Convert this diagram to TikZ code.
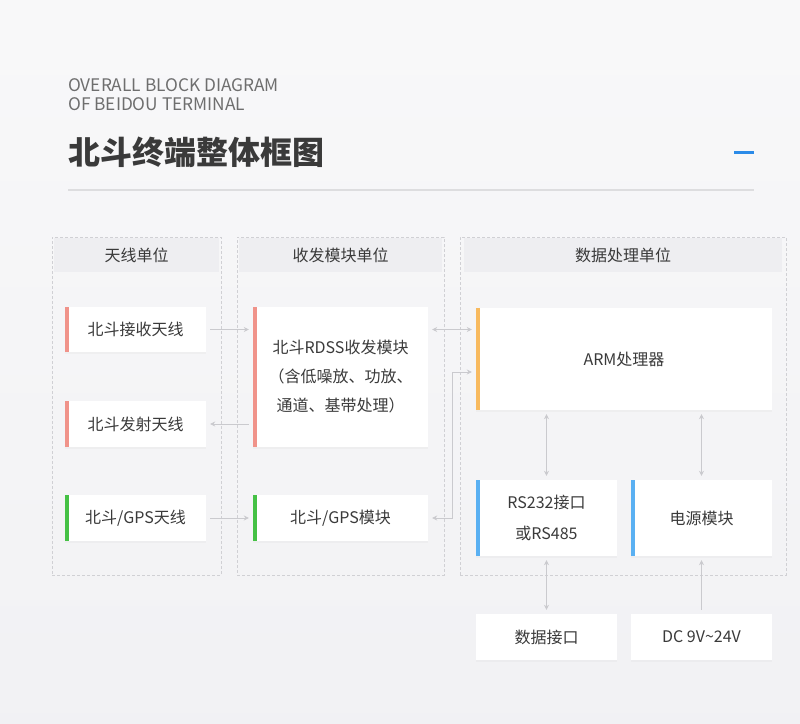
\documentclass[tikz,border=0pt]{standalone}
\usepackage{fontspec}
\setmainfont{Noto Sans CJK SC}
\usepackage{tikz}
\usetikzlibrary{arrows.meta, positioning, shadows}
\definecolor{textDark}{HTML}{3A3A3A}
\definecolor{textGray}{HTML}{6E6E6E}
\definecolor{unitLine}{HTML}{D0D0D4}
\definecolor{headFill}{HTML}{EEEEF1}
\definecolor{linkGray}{HTML}{CACACE}
\definecolor{ruleGray}{HTML}{DDDDDF}
\definecolor{accentBlue}{HTML}{2B8BE8}
\definecolor{barRed}{HTML}{F0938A}
\definecolor{barGreen}{HTML}{45C145}
\definecolor{barOrange}{HTML}{F8BA5F}
\definecolor{barBlue}{HTML}{5AB0F2}
\tikzstyle{unit}=[draw=unitLine, dash pattern=on 3pt off 2pt, line width=0.8pt, inner sep=0pt]
\tikzstyle{unitHead}=[fill=headFill, inner sep=0pt, text=textDark, font=\fontsize{16}{19}\selectfont]
\tikzstyle{block}=[fill=white, inner sep=0pt, text=textDark, align=center, font=\fontsize{16}{29}\selectfont, drop shadow={shadow xshift=0pt, shadow yshift=-2pt, opacity=0.05}]
\tikzstyle{link}=[draw=linkGray, line width=0.8pt, -{Stealth[length=5pt, width=5pt]}, shorten >=4pt, shorten <=4pt]
\tikzstyle{biLink}=[link, {Stealth[length=5pt, width=5pt]}-{Stealth[length=5pt, width=5pt]}]
\tikzset{bar/.style={path picture={\fill[#1] (path picture bounding box.north west) rectangle ([xshift=4pt]path picture bounding box.south west);}}}

\begin{document}
\begin{tikzpicture}[x=1pt, y=-1pt]
    % Background
    \shade[top color=white!60!headFill, bottom color=headFill!80!white] (0,0) rectangle (800,723);
    \useasboundingbox (0,0) rectangle (800,723);

    % Title
    \node[anchor=base west, inner sep=0pt, text=textGray, font=\fontsize{17.3}{20}\selectfont] (subA) at (68,91) {OVERALL BLOCK DIAGRAM};
    \node[anchor=base west, inner sep=0pt, text=textGray, font=\fontsize{17.3}{20}\selectfont] (subB) at (68,110) {OF BEIDOU TERMINAL};
    \node[anchor=base west, inner sep=0pt, text=textDark, font=\fontsize{32}{36}\selectfont\bfseries] (title) at (68,164) {北斗终端整体框图};
    \draw[ruleGray, line width=2pt] (68,190) -- (754,190);
    \draw[accentBlue, line width=3pt] (734,152) -- (754,152);

    % Units
    \node[unit, minimum width=169pt, minimum height=338pt] (grpAnt) at (136.5,406) {};
    \node[unit, minimum width=207pt, minimum height=338pt] (grpTrx) at (340.5,406) {};
    \node[unit, minimum width=326pt, minimum height=338pt] (grpProc) at (623,406) {};
    \node[unitHead, anchor=north, minimum width=165pt, minimum height=34pt] (headAnt) at ([yshift=-1.5pt]grpAnt.north) {天线单位};
    \node[unitHead, anchor=north, minimum width=203pt, minimum height=34pt] (headTrx) at ([yshift=-1.5pt]grpTrx.north) {收发模块单位};
    \node[unitHead, anchor=north, minimum width=318pt, minimum height=34pt] (headProc) at ([yshift=-1.5pt]grpProc.north) {数据处理单位};

    % Blocks
    \node[block, bar=barRed, minimum width=141pt, minimum height=45pt] (rxAnt) at (135.5,329.5) {北斗接收天线};
    \node[block, bar=barRed, minimum width=141pt, minimum height=46pt] (txAnt) at (135.5,424) {北斗发射天线};
    \node[block, bar=barGreen, minimum width=141pt, minimum height=46pt] (gpsAnt) at (135.5,518) {北斗/GPS天线};
    \node[block, bar=barRed, minimum width=175pt, minimum height=140pt] (rdss) at (340.5,377) {北斗RDSS收发模块\\（含低噪放、功放、\\通道、基带处理）};
    \node[block, bar=barGreen, minimum width=175pt, minimum height=46pt] (gpsMod) at (340.5,518) {北斗/GPS模块};
    \node[block, bar=barOrange, minimum width=296pt, minimum height=102pt] (arm) at (624,359) {ARM处理器};
    \node[block, bar=barBlue, minimum width=141pt, minimum height=76pt, font=\fontsize{16}{31}\selectfont] (serial) at (546.5,518) {RS232接口\\或RS485};
    \node[block, bar=barBlue, minimum width=141pt, minimum height=76pt] (power) at (701.5,518) {电源模块};
    \node[block, minimum width=141pt, minimum height=46pt] (dataIf) at (546.5,637) {数据接口};
    \node[block, minimum width=141pt, minimum height=46pt] (dcIn) at (701.5,637) {DC 9V\textasciitilde24V};

    % Links
    \draw[link] (rxAnt.east) -- (rxAnt.east -| rdss.west);
    \draw[link] (txAnt.east -| rdss.west) -- (txAnt.east);
    \draw[link] (gpsAnt) -- (gpsMod);
    \draw[biLink] (rxAnt.east -| rdss.east) -- (rxAnt.east -| arm.west);
    \draw[biLink] (gpsMod.east) -- ++(24,0) |- ([yshift=-13pt]arm.west);
    \draw[biLink] (serial.north |- arm.south) -- (serial.north);
    \draw[biLink] (power.north |- arm.south) -- (power.north);
    \draw[biLink] (serial.south) -- (dataIf.north);
    \draw[link] (dcIn.north) -- (power.south);
\end{tikzpicture}
\end{document}
